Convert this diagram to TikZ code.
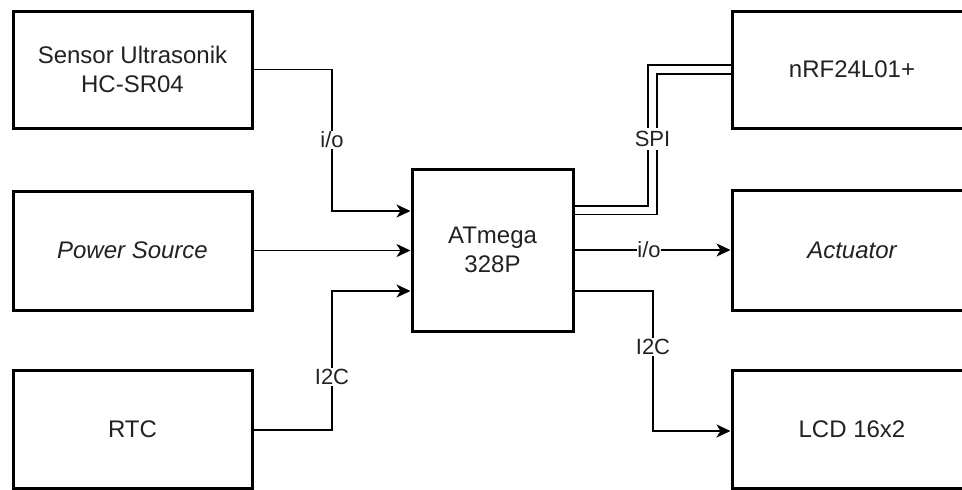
\documentclass[tikz,border=0pt]{standalone}
\usepackage{fontspec}
\setmainfont{Liberation Sans}
\usetikzlibrary{arrows.meta}
\definecolor{txt}{HTML}{222222}
\tikzset{
  blk/.style={draw=black, line width=3pt, fill=white, inner sep=0pt, text=txt,
    align=center, font=\fontsize{24}{28.8}\selectfont},
  conn/.style={draw=black, line width=1.6pt},
  arr/.style={conn, -{Stealth[length=14pt, width=13pt, inset=4pt]}},
  lbl/.style={fill=white, text=txt, inner sep=1pt, font=\fontsize{22}{26}\selectfont}
}
\begin{document}
\begin{tikzpicture}[x=1pt, y=-1pt]
\useasboundingbox (0,0) rectangle (962,490);
\fill[white] (0,0) rectangle (962,490);
\clip (0,0) rectangle (962,490);
% left column
\node[blk, minimum width=239pt, minimum height=117pt] (sens) at (132.5,69.5) {Sensor Ultrasonik\\HC-SR04};
\node[blk, minimum width=239pt, minimum height=119pt] (pow) at (132.5,250.5) {\itshape Power Source};
\node[blk, minimum width=239pt, minimum height=118pt] (rtc) at (132.5,429) {RTC};
% center
\node[blk, minimum width=161pt, minimum height=162pt] (mcu) at (492.5,250) {ATmega\\328P};
% right column
\node[blk, minimum width=240pt, minimum height=117pt] (nrf) at (852,69.5) {nRF24L01+};
\node[blk, minimum width=240pt, minimum height=120pt] (act) at (852,250) {\itshape Actuator};
\node[blk, minimum width=240pt, minimum height=118pt] (lcd) at (852,429) {LCD 16x2};
% helper coordinates
\coordinate (s1) at (332,69.5);
\coordinate (s2) at (332,211);
\coordinate (r1) at (332,430);
\coordinate (r2) at (332,291);
\coordinate (p1) at (573,210);
\coordinate (p2) at (652.5,210);
\coordinate (p3) at (652.5,69.5);
\coordinate (l1) at (573,291);
\coordinate (l2) at (653,291);
\coordinate (l3) at (653,431);
% connectors
\draw[arr] (sens.east |- s1) -- (s1) -- (s2) -- (mcu.west |- s2);
\draw[arr] (pow.east) -- (mcu.west |- pow.east);
\draw[arr] (rtc.east |- r1) -- (r1) -- (r2) -- (mcu.west |- r2);
\draw[conn, double=white, double distance=7pt, line join=miter] (mcu.east |- p1) -- (p2) -- (p3) -- (nrf.west |- p3);
\draw[arr] (mcu.east |- act.west) -- (act.west);
\draw[arr] (mcu.east |- l1) -- (l2) -- (l3) -- (lcd.west |- l3);
% labels
\node[lbl] (lio1) at (332,140) {i/o};
\node[lbl] (li2c1) at (332,377) {I2C};
\node[lbl, inner sep=3pt] (lspi) at (652.5,139) {SPI};
\node[lbl, inner sep=0pt] (lio2) at (649,250) {i/o};
\node[lbl] (li2c2) at (653,347) {I2C};
\end{tikzpicture}
\end{document}
